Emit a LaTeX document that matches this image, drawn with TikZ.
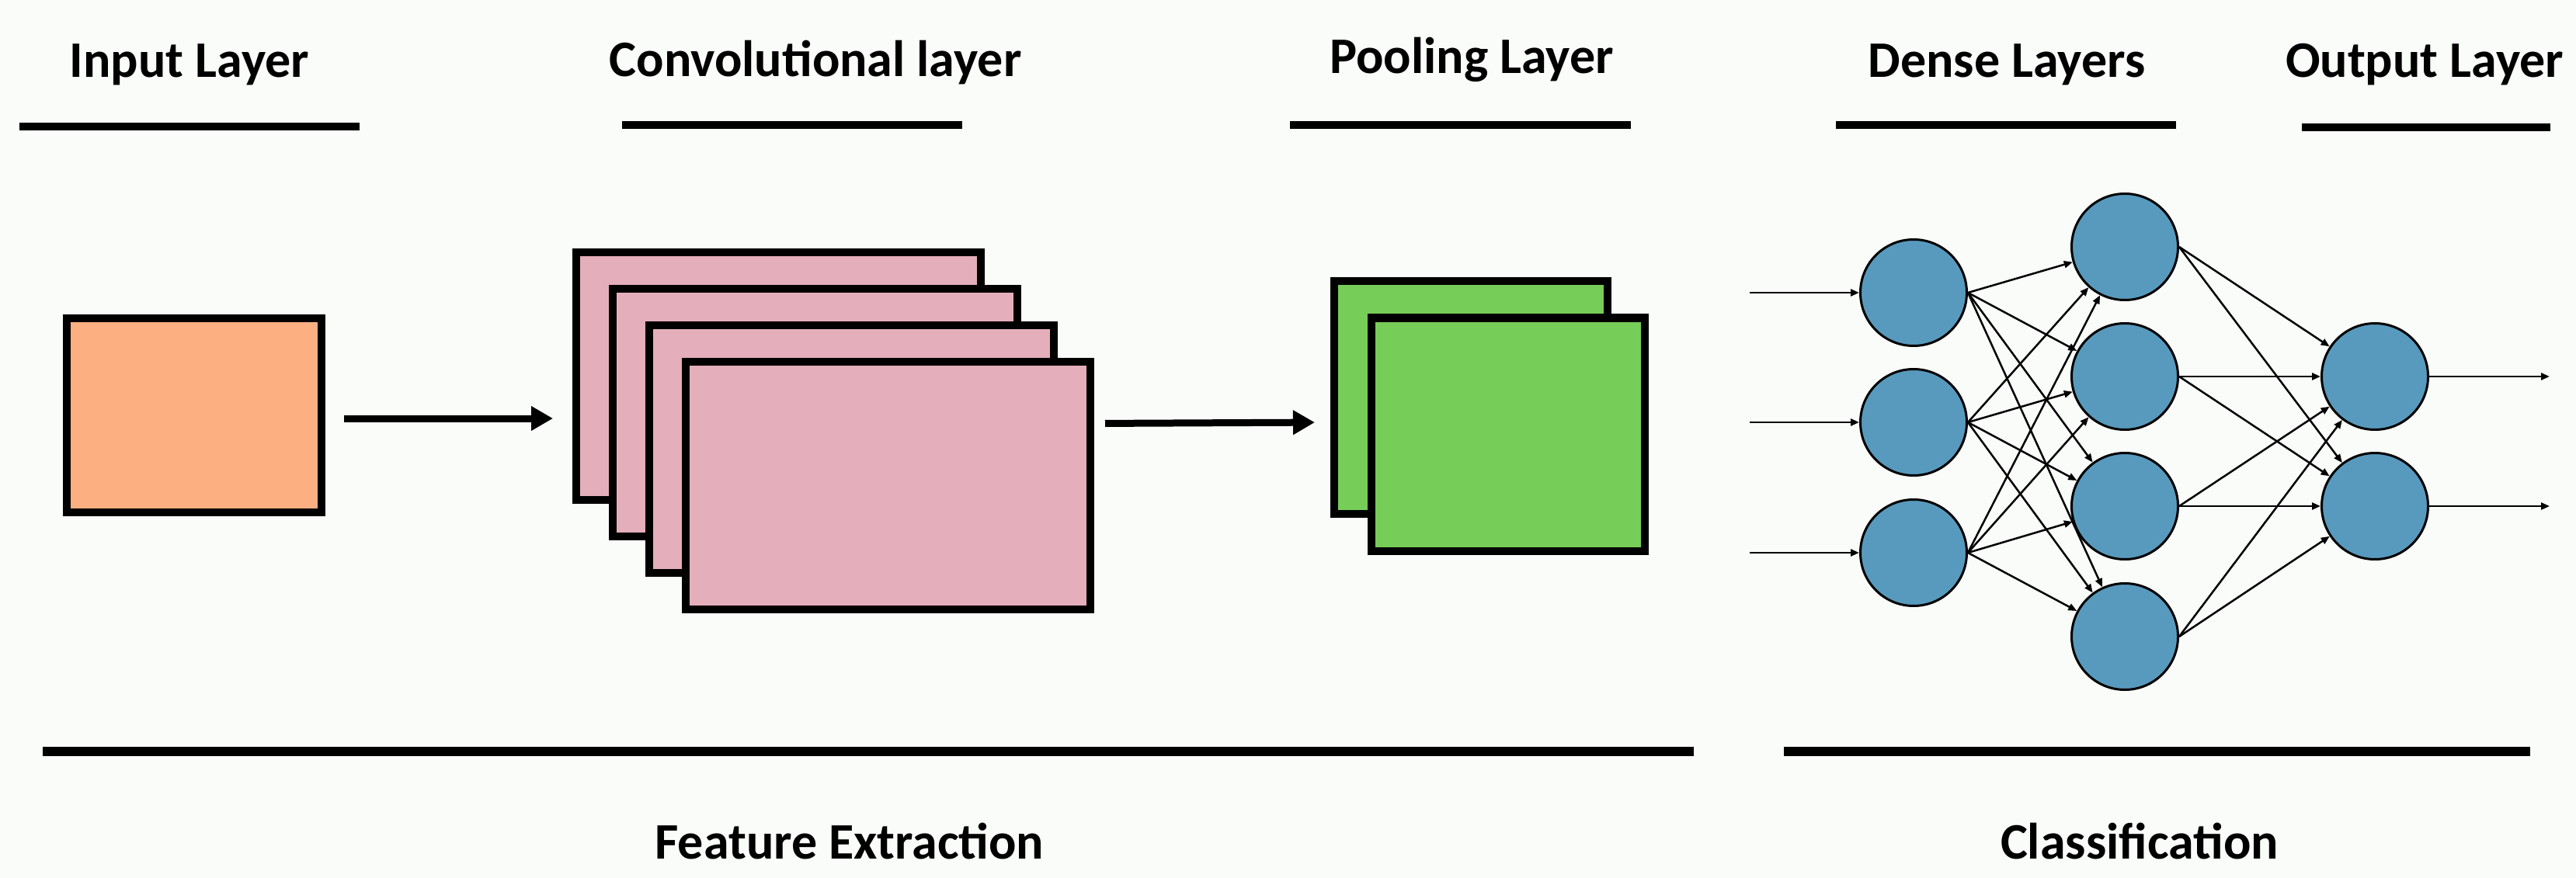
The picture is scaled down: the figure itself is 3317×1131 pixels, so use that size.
\documentclass[tikz,border=0pt]{standalone}
\usepackage{fontspec}
\setmainfont{Carlito}
\usetikzlibrary{arrows.meta,calc}
\definecolor{bgc}{RGB}{250,252,250}
\definecolor{orangebox}{RGB}{252,175,128}
\definecolor{pinkbox}{RGB}{229,174,187}
\definecolor{greenbox}{RGB}{118,205,88}
\definecolor{neuron}{RGB}{88,154,189}
\tikzset{
  title/.style={anchor=base,inner sep=0pt,font=\fontsize{66}{70}\selectfont\bfseries},
  rule/.style={line width=10pt},
  bigrule/.style={line width=12pt},
  fmap/.style={draw=black,line width=10pt,inner sep=0pt,outer sep=5pt},
  bigarrow/.style={line width=9pt,-{Triangle[length=28pt,width=30pt]}},
  neu/.style={circle,draw=black,line width=3pt,fill=neuron,minimum size=137pt,inner sep=0pt,outer sep=1.5pt},
  link/.style={line width=2.5pt,-{Triangle[length=11pt,width=9pt]}}
}
\begin{document}
\begin{tikzpicture}[x=1pt,y=-1pt]
\fill[bgc] (0,0) rectangle (3317,1131);
\useasboundingbox (0,0) rectangle (3317,1131);

% headings
\node[title] (tin) at (244,100) {Input Layer};
\node[title] (tconv) at (1050,99) {Convolutional layer};
\node[title] (tpool) at (1895,95) {Pooling Layer};
\node[title] (tdense) at (2584,100) {Dense Layers};
\node[title] (tout) at (3122,100) {Output Layer};
\draw[rule] (25,163) -- (463,163);
\draw[rule] (801,161) -- (1239,161);
\draw[rule] (1661,161) -- (2100,161);
\draw[rule] (2364,161) -- (2802,161);
\draw[rule] (2964,164) -- (3284,164);

% bottom
\draw[bigrule] (55,968) -- (2181,968);
\draw[bigrule] (2297,968) -- (3258,968);
\node[title] (tfe) at (1094,1106) {Feature Extraction};
\node[title] (tcl) at (2755,1106) {Classification};

% input
\node[fmap,fill=orangebox,minimum width=328pt,minimum height=250pt] (inp) at (250,535) {};

% conv stack
\node[fmap,fill=pinkbox,minimum width=521pt,minimum height=319pt] (c1) at (1002.5,484.5) {};
\node[fmap,fill=pinkbox,minimum width=521pt,minimum height=319pt] (c2) at (1049.5,531.5) {};
\node[fmap,fill=pinkbox,minimum width=521pt,minimum height=319pt] (c3) at (1096.5,578.5) {};
\node[fmap,fill=pinkbox,minimum width=521pt,minimum height=319pt] (c4) at (1143.5,625.5) {};

% pooling stack
\node[fmap,fill=greenbox,minimum width=352pt,minimum height=300pt] (p1) at (1894,512) {};
\node[fmap,fill=greenbox,minimum width=352pt,minimum height=300pt] (p2) at (1941.5,559.5) {};

\draw[bigarrow,shorten <=24pt,shorten >=25pt] ([yshift=-4pt]inp.east) -- ([yshift=-4pt]inp.east -| c1.west);
\draw[bigarrow,shorten <=14pt,shorten >=20pt] ([yshift=80pt]c4.east) -- ([yshift=-32pt]p1.west);

% network
\node[neu] (a1) at (2464,377) {};
\node[neu] (a2) at (2464,544) {};
\node[neu] (a3) at (2464,712) {};
\node[neu] (b1) at (2736,318) {};
\node[neu] (b2) at (2736,485) {};
\node[neu] (b3) at (2736,652) {};
\node[neu] (b4) at (2736,820) {};
\node[neu] (o1) at (3058,485) {};
\node[neu] (o2) at (3058,652) {};

\coordinate (i1) at (2253,377);
\coordinate (i2) at (2253,544);
\coordinate (i3) at (2253,712);
\coordinate (e1) at (3283,485);
\coordinate (e2) at (3283,652);

\draw[link] (i1) -- (a1);
\draw[link] (i2) -- (a2);
\draw[link] (i3) -- (a3);
\draw[link] (o1) -- (e1);
\draw[link] (o2) -- (e2);

\foreach \s in {a1,a2,a3}{
  \foreach \t in {b1,b2,b3,b4}{
    \draw[link] (\s.east) -- (\t);
  }
}
\foreach \s in {b1,b2,b3,b4}{
  \foreach \t in {o1,o2}{
    \draw[link] (\s.east) -- (\t);
  }
}
\end{tikzpicture}
\end{document}
